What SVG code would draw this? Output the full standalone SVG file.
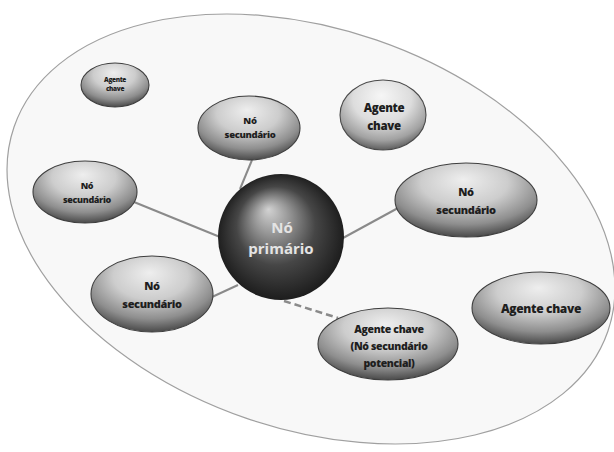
<svg xmlns="http://www.w3.org/2000/svg" width="614" height="452" viewBox="0 0 614 452">
  <defs>
    <radialGradient id="nodeFill" cx="50%" cy="32%" r="68%" fx="48%" fy="22%">
      <stop offset="0%" stop-color="#eeeeee"/>
      <stop offset="45%" stop-color="#cdcdcd"/>
      <stop offset="78%" stop-color="#8e8e8e"/>
      <stop offset="100%" stop-color="#4a4a4a"/>
    </radialGradient>
    <radialGradient id="nodeFillLight" cx="50%" cy="32%" r="68%" fx="48%" fy="22%">
      <stop offset="0%" stop-color="#f6f6f6"/>
      <stop offset="50%" stop-color="#dddddd"/>
      <stop offset="82%" stop-color="#a2a2a2"/>
      <stop offset="100%" stop-color="#5e5e5e"/>
    </radialGradient>
    <radialGradient id="sphereFill" cx="50%" cy="50%" r="52%" fx="40%" fy="28%">
      <stop offset="0%" stop-color="#d2d2d2"/>
      <stop offset="25%" stop-color="#9a9a9a"/>
      <stop offset="60%" stop-color="#464646"/>
      <stop offset="100%" stop-color="#1a1a1a"/>
    </radialGradient>
    <style>
      .field { fill: #f8f8f8; stroke: #a0a0a0; stroke-width: 1.2; }
      .node { fill: url(#nodeFill); stroke: #3e3e3e; stroke-width: 1.1; }
      .node-light { fill: url(#nodeFillLight); stroke: #4a4a4a; stroke-width: 1.1; }
      .link { stroke: #8a8a8a; stroke-width: 2; fill: none; }
      .link-dashed { stroke: #8a8a8a; stroke-width: 2.5; stroke-dasharray: 7 4; fill: none; }
      text { font-family: "Open Sans", "Liberation Sans", sans-serif; font-weight: 800; fill: #1e1e1e; text-anchor: middle; letter-spacing: -0.35px; }
      .primary-label { fill: #e4e4e4; font-size: 15px; font-weight: 700; letter-spacing: 0; }
    </style>
  </defs>

  <rect width="614" height="452" fill="#ffffff"/>

  <!-- surrounding field -->
  <ellipse class="field" cx="311" cy="229" rx="314" ry="200" transform="rotate(19 311 229)"/>

  <!-- links from the primary node -->
  <g id="connectors">
    <line class="link" x1="252" y1="160" x2="240" y2="189"/>
    <line class="link" x1="134" y1="202" x2="220" y2="237"/>
    <line class="link" x1="343" y1="238" x2="398" y2="208"/>
    <line class="link" x1="212" y1="297" x2="238" y2="285"/>
    <line class="link-dashed" x1="284" y1="301" x2="338" y2="318"/>
  </g>

  <g id="agent-small">
    <ellipse class="node" cx="115" cy="85" rx="34" ry="22"/>
    <text x="115" y="82" font-size="6.5">Agente</text>
    <text x="115" y="91" font-size="6.5">chave</text>
  </g>

  <g id="secondary-top">
    <ellipse class="node" cx="249" cy="128" rx="51" ry="32"/>
    <text x="250" y="124" font-size="9.5">Nó</text>
    <text x="250" y="138" font-size="9.5">secundário</text>
  </g>

  <g id="agent-top-right">
    <ellipse class="node-light" cx="383" cy="115" rx="43" ry="35"/>
    <text x="384" y="112" font-size="11.5">Agente</text>
    <text x="384" y="130" font-size="11.5">chave</text>
  </g>

  <g id="secondary-left">
    <ellipse class="node" cx="85" cy="192" rx="52" ry="31"/>
    <text x="87" y="189" font-size="9">Nó</text>
    <text x="87" y="203" font-size="9">secundário</text>
  </g>

  <g id="secondary-right">
    <ellipse class="node" cx="466" cy="200" rx="71" ry="37"/>
    <text x="466" y="196" font-size="11">Nó</text>
    <text x="466" y="214" font-size="11">secundário</text>
  </g>

  <g id="secondary-lower-left">
    <ellipse class="node" cx="152" cy="294" rx="61" ry="38"/>
    <text x="152" y="290" font-size="11">Nó</text>
    <text x="152" y="308" font-size="11">secundário</text>
  </g>

  <g id="agent-potential">
    <ellipse class="node" cx="388" cy="344" rx="70" ry="36"/>
    <text x="389" y="333" font-size="10.5">Agente chave</text>
    <text x="389" y="350" font-size="10.5">(Nó secundário</text>
    <text x="389" y="367" font-size="10.5">potencial)</text>
  </g>

  <g id="agent-right">
    <ellipse class="node" cx="541" cy="308" rx="69" ry="36"/>
    <text x="541" y="313" font-size="12">Agente chave</text>
  </g>

  <g id="primary">
    <ellipse cx="281" cy="237" rx="63" ry="63" fill="url(#sphereFill)"/>
    <text class="primary-label" x="282" y="233">Nó</text>
    <text class="primary-label" x="281" y="254">primário</text>
  </g>
</svg>
